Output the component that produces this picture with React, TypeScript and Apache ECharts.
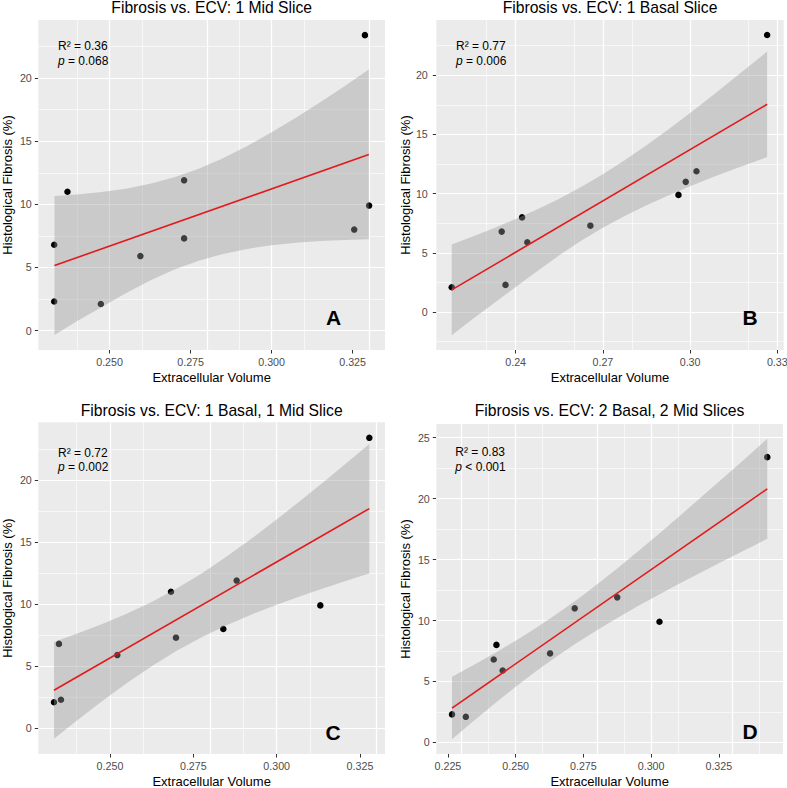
import React, { useEffect, useRef } from 'react';
import * as echarts from 'echarts';

const FONT = '"Liberation Sans", Arial, Helvetica, sans-serif';

// ---------- Panel A: 1 Mid Slice ----------
const ecvA = [0.2329, 0.2329, 0.2370, 0.2473, 0.2595, 0.2730, 0.2730, 0.3255, 0.3288, 0.3301];
const fibA = [6.8, 2.3, 11.0, 2.1, 5.9, 11.9, 7.3, 8.0, 23.4, 9.9];
const fitXA = [0.2330, 0.3300];
const fitYA = [5.15, 13.95];
const bandXA = [0.2330, 0.2400, 0.2475, 0.2550, 0.2625, 0.2700, 0.2775, 0.2850, 0.2925, 0.3000, 0.3075, 0.3150, 0.3225, 0.3300];
const bandUpA = [10.65, 10.78, 10.97, 11.24, 11.62, 12.14, 12.82, 13.65, 14.62, 15.70, 16.86, 18.09, 19.36, 20.67];
const bandLoA = [-0.35, 0.75, 1.85, 2.95, 3.96, 4.83, 5.53, 6.07, 6.47, 6.76, 6.96, 7.09, 7.18, 7.23];

// ---------- Panel B: 1 Basal Slice ----------
const ecvB = [0.2180, 0.2352, 0.2365, 0.2422, 0.2440, 0.2657, 0.2960, 0.2985, 0.3022, 0.3265];
const fibB = [2.1, 6.8, 2.3, 8.0, 5.9, 7.3, 9.9, 11.0, 11.9, 23.4];
const fitXB = [0.2180, 0.3265];
const fitYB = [1.88, 17.55];
const bandXB = [0.2180, 0.2250, 0.2325, 0.2400, 0.2475, 0.2550, 0.2625, 0.2700, 0.2775, 0.2850, 0.2925, 0.3000, 0.3075, 0.3150, 0.3265];
const bandUpB = [5.71, 6.36, 7.09, 7.87, 8.69, 9.57, 10.56, 11.64, 12.82, 14.09, 15.43, 16.82, 18.26, 19.72, 22.00];
const bandLoB = [-1.95, -0.62, 0.75, 2.12, 3.48, 4.80, 6.02, 7.12, 8.12, 9.03, 9.85, 10.62, 11.36, 12.06, 13.10];

// ---------- Panel C: 1 Basal, 1 Mid Slice ----------
const ecvC = [0.2332, 0.2353, 0.2347, 0.2522, 0.2683, 0.2698, 0.2840, 0.2880, 0.3131, 0.3278];
const fibC = [2.1, 2.3, 6.8, 5.9, 11.0, 7.3, 8.0, 11.9, 9.9, 23.4];
const fitXC = [0.2332, 0.3278];
const fitYC = [3.06, 17.70];
const bandXC = [0.2332, 0.2400, 0.2475, 0.2550, 0.2625, 0.2700, 0.2775, 0.2850, 0.2925, 0.3000, 0.3075, 0.3150, 0.3225, 0.3278];
const bandUpC = [6.96, 7.61, 8.38, 9.23, 10.18, 11.26, 12.48, 13.83, 15.29, 16.82, 18.42, 20.05, 21.71, 22.90];
const bandLoC = [-0.84, 0.61, 2.16, 3.63, 5.00, 6.24, 7.34, 8.31, 9.17, 9.96, 10.68, 11.37, 12.03, 12.48];

// ---------- Panel D: 2 Basal, 2 Mid Slices ----------
const ecvD = [0.2265, 0.2316, 0.2419, 0.2429, 0.2452, 0.2627, 0.2718, 0.2875, 0.3031, 0.3429];
const fibD = [2.3, 2.1, 6.8, 8.0, 5.9, 7.3, 11.0, 11.9, 9.9, 23.4];
const fitXD = [0.2265, 0.3429];
const fitYD = [2.82, 20.80];
const bandXD = [0.2265, 0.2350, 0.2425, 0.2500, 0.2575, 0.2650, 0.2725, 0.2800, 0.2875, 0.2950, 0.3025, 0.3100, 0.3175, 0.3250, 0.3325, 0.3429];
const bandUpD = [5.38, 6.41, 7.35, 8.34, 9.39, 10.51, 11.69, 12.95, 14.27, 15.64, 17.04, 18.47, 19.92, 21.38, 22.84, 24.90];
const bandLoD = [0.26, 1.85, 3.23, 4.56, 5.83, 7.03, 8.15, 9.21, 10.21, 11.16, 12.08, 12.97, 13.84, 14.70, 15.54, 16.70];

// ---------- Axis ticks ----------
const xMajorA = [0.250, 0.275, 0.300, 0.325];
const xMinorA = [0.2375, 0.2625, 0.2875, 0.3125];
const xMajorB = [0.24, 0.27, 0.30, 0.33];
const xMinorB = [0.225, 0.255, 0.285, 0.315];
const xMajorC = [0.250, 0.275, 0.300, 0.325];
const xMinorC = [0.2375, 0.2625, 0.2875, 0.3125];
const xMajorD = [0.225, 0.250, 0.275, 0.300, 0.325];
const xMinorD = [0.2375, 0.2625, 0.2875, 0.3125, 0.3375];
const yMajor20 = [0, 5, 10, 15, 20];
const yMajor25 = [0, 5, 10, 15, 20, 25];
const yMinorA = [2.5, 7.5, 12.5, 17.5, 22.5];
const yMinorB = [-2.5, 2.5, 7.5, 12.5, 17.5, 22.5];

const titles = [
  'Fibrosis vs. ECV: 1 Mid Slice',
  'Fibrosis vs. ECV: 1 Basal Slice',
  'Fibrosis vs. ECV: 1 Basal, 1 Mid Slice',
  'Fibrosis vs. ECV: 2 Basal, 2 Mid Slices',
];
const r2Labels = ['0.36', '0.77', '0.72', '0.83'];
const pLabels = ['= 0.068', '= 0.006', '= 0.002', '< 0.001'];
const panelLetters = ['A', 'B', 'C', 'D'];

const panels = [
  {
    ecv: ecvA, fib: fibA, fitX: fitXA, fitY: fitYA, bandX: bandXA, bandUp: bandUpA, bandLo: bandLoA,
    xMin: 0.2280, xMax: 0.3350, yMin: -1.54, yMax: 24.6,
    xMajor: xMajorA, xMinor: xMinorA, yMajor: yMajor20, yMinor: yMinorA, dec: 3,
    grid: { left: 38.3, top: 20, width: 346.7, height: 330 }, yLabelMargin: 6.5,
    titlePos: [211.7, 7.5], notePos: [58, 46.2, 60.8], letterPos: [333.5, 317.5],
  },
  {
    ecv: ecvB, fib: fibB, fitX: fitXB, fitY: fitYB, bandX: bandXB, bandUp: bandUpB, bandLo: bandLoB,
    xMin: 0.2127, xMax: 0.3322, yMin: -3.2, yMax: 24.67,
    xMajor: xMajorB, xMinor: xMinorB, yMajor: yMajor20, yMinor: yMinorB, dec: 2,
    grid: { left: 436.3, top: 20, width: 347.4, height: 330 }, yLabelMargin: 8.5,
    titlePos: [610, 7.5], notePos: [456, 46.2, 60.8], letterPos: [750, 317.5],
  },
  {
    ecv: ecvC, fib: fibC, fitX: fitXC, fitY: fitYC, bandX: bandXC, bandUp: bandUpC, bandLo: bandLoC,
    xMin: 0.2285, xMax: 0.3325, yMin: -2.07, yMax: 24.65,
    xMajor: xMajorC, xMinor: xMinorC, yMajor: yMajor20, yMinor: yMinorA, dec: 3,
    grid: { left: 38.3, top: 422.3, width: 346.7, height: 331.7 }, yLabelMargin: 6.5,
    titlePos: [211.7, 410], notePos: [58, 452.8, 467], letterPos: [333, 732],
  },
  {
    ecv: ecvD, fib: fibD, fitX: fitXD, fitY: fitYD, bandX: bandXD, bandUp: bandUpD, bandLo: bandLoD,
    xMin: 0.2207, xMax: 0.3487, yMin: -0.95, yMax: 26.12,
    xMajor: xMajorD, xMinor: xMinorD, yMajor: yMajor25, yMinor: yMinorA, dec: 3,
    grid: { left: 436.3, top: 424, width: 346.7, height: 330 }, yLabelMargin: 6.5,
    titlePos: [609.6, 410], notePos: [455.3, 452.3, 466.8], letterPos: [750, 731.5],
  },
];

function gridLine(axis: 'xAxis' | 'yAxis', v: number, width: number) {
  return { [axis]: v, lineStyle: { color: '#FFFFFF', width, type: 'solid', opacity: 1 } };
}

function buildOption() {
  const grid: any[] = [];
  const xAxis: any[] = [];
  const yAxis: any[] = [];
  const series: any[] = [];
  const graphic: any[] = [];

  panels.forEach((p, i) => {
    grid.push({
      ...p.grid,
      show: true,
      backgroundColor: '#EBEBEB',
      borderWidth: 0,
      containLabel: false,
      outerBoundsMode: 'none',
    });

    xAxis.push({
      type: 'value', gridIndex: i, position: 'bottom', min: p.xMin, max: p.xMax,
      axisLine: { show: false, onZero: false },
      axisTick: { show: true, length: 3.5, lineStyle: { color: '#333333', width: 1 }, customValues: p.xMajor },
      axisLabel: {
        customValues: p.xMajor, color: '#4D4D4D', fontSize: 10.7, fontFamily: FONT, margin: 6,
        formatter: (v: number) => Number(v).toFixed(p.dec),
      },
      splitLine: { show: false },
      name: 'Extracellular Volume', nameLocation: 'middle', nameGap: 21,
      nameTextStyle: { color: '#000000', fontSize: 13, fontFamily: FONT },
    });
    yAxis.push({
      type: 'value', gridIndex: i, position: 'left', min: p.yMin, max: p.yMax,
      axisLine: { show: false, onZero: false },
      axisTick: { show: true, length: 3.5, lineStyle: { color: '#333333', width: 1 }, customValues: p.yMajor },
      axisLabel: {
        customValues: p.yMajor, color: '#4D4D4D', fontSize: 10.7, fontFamily: FONT, margin: p.yLabelMargin,
        formatter: (v: number) => String(Math.round(v)),
      },
      splitLine: { show: false },
      name: 'Histological Fibrosis (%)', nameLocation: 'middle', nameGap: 24,
      nameTextStyle: { color: '#000000', fontSize: 13, fontFamily: FONT },
    });

    // panel grid lines (major + minor), drawn through the axes' scales, beneath the data
    series.push({
      type: 'line', xAxisIndex: i, yAxisIndex: i, z: 1, silent: true,
      data: [], showSymbol: false,
      markLine: {
        z: 1, silent: true, symbol: ['none', 'none'], label: { show: false }, animation: false,
        emphasis: { disabled: true },
        data: [
          ...p.xMinor.map((v) => gridLine('xAxis', v, 0.6)),
          ...p.yMinor.map((v) => gridLine('yAxis', v, 0.6)),
          ...p.xMajor.map((v) => gridLine('xAxis', v, 1.2)),
          ...p.yMajor.map((v) => gridLine('yAxis', v, 1.2)),
        ],
      },
    });

    series.push({
      type: 'scatter', xAxisIndex: i, yAxisIndex: i, z: 6,
      symbol: 'circle', symbolSize: 6.5,
      itemStyle: { color: '#000000', opacity: 1 },
      data: p.ecv.map((x, k) => [x, p.fib[k]]),
      silent: true,
    });

    series.push({
      type: 'custom', xAxisIndex: i, yAxisIndex: i, z: 7, silent: true,
      data: [[p.bandX[0], p.bandUp[0]]],
      renderItem: (params: any, api: any) => {
        const up = p.bandX.map((x, k) => api.coord([x, p.bandUp[k]]));
        const lo = p.bandX.map((x, k) => api.coord([x, p.bandLo[k]])).reverse();
        return {
          type: 'polygon',
          shape: { points: up.concat(lo) },
          style: { fill: 'rgba(153,153,153,0.4)', stroke: 'none' },
        };
      },
    });

    series.push({
      type: 'line', xAxisIndex: i, yAxisIndex: i, z: 8, silent: true,
      showSymbol: false, symbol: 'none',
      lineStyle: { color: '#E3191C', width: 1.6 },
      data: p.fitX.map((x, k) => [x, p.fitY[k]]),
    });

    graphic.push({
      type: 'text', x: p.titlePos[0], y: p.titlePos[1], silent: true, z: 20,
      style: {
        text: titles[i], fontSize: 15.7, fontFamily: FONT, fill: '#000000',
        align: 'center', verticalAlign: 'middle', textAlign: 'center', textVerticalAlign: 'middle',
      },
    });
    graphic.push({
      type: 'text', x: p.notePos[0], y: p.notePos[1], silent: true, z: 20,
      style: {
        text: 'R\u00B2 = ' + r2Labels[i], fontSize: 12, fontFamily: FONT, fill: '#000000',
        align: 'left', verticalAlign: 'middle', textAlign: 'left', textVerticalAlign: 'middle',
      },
    });
    graphic.push({
      type: 'text', x: p.notePos[0], y: p.notePos[2], silent: true, z: 20,
      style: {
        text: '{i|p} ' + pLabels[i], fontSize: 12, fontFamily: FONT, fill: '#000000',
        align: 'left', verticalAlign: 'middle', textAlign: 'left', textVerticalAlign: 'middle',
        rich: { i: { fontStyle: 'italic', fontSize: 12, fontFamily: FONT, fill: '#000000', color: '#000000' } },
      },
    });
    graphic.push({
      type: 'text', x: p.letterPos[0], y: p.letterPos[1], silent: true, z: 20,
      style: {
        text: panelLetters[i], fontSize: 21, fontWeight: 'bold', fontFamily: FONT, fill: '#000000',
        align: 'center', verticalAlign: 'middle', textAlign: 'center', textVerticalAlign: 'middle',
      },
    });
  });

  return {
    animation: false,
    backgroundColor: '#FFFFFF',
    textStyle: { fontFamily: FONT },
    grid, xAxis, yAxis, series, graphic,
  };
}

export default function App() {
  const ref = useRef<HTMLDivElement | null>(null);
  useEffect(() => {
    if (!ref.current) return;
    const chart = echarts.init(ref.current, undefined, { renderer: 'svg' });
    chart.setOption(buildOption() as any);
    return () => chart.dispose();
  }, []);
  return (
    <div
      ref={ref}
      style={{ position: 'absolute', left: 0, top: 0, width: 787, height: 788, background: '#FFFFFF' }}
    />
  );
}
